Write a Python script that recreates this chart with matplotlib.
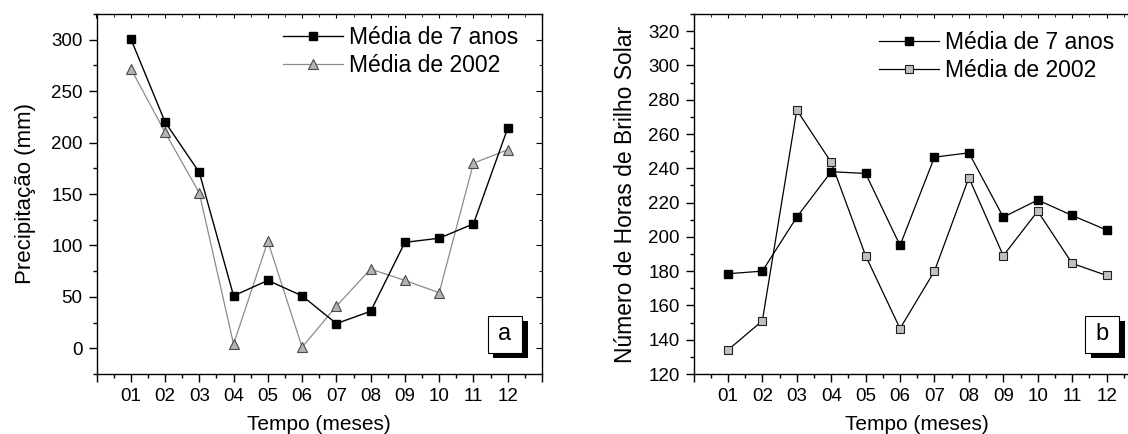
import matplotlib
matplotlib.use("Agg")
import matplotlib.pyplot as plt
from matplotlib.patches import Rectangle
from matplotlib.ticker import MultipleLocator, FixedLocator

plt.rcParams['font.family'] = ['Liberation Sans', 'DejaVu Sans']

months = list(range(1, 13))
month_labels = ["01", "02", "03", "04", "05", "06", "07", "08", "09", "10", "11", "12"]

prec_7anos = [301, 220, 171, 51, 66, 51, 24, 36, 103, 107, 121, 214]
prec_2002 = [272, 210, 151, 4, 104, 1, 41, 77, 66, 54, 180, 193]

sol_7anos = [178.5, 180, 211.5, 238, 237, 195, 246.5, 249, 211.5, 221.5, 212.5, 204]
sol_2002 = [134, 151, 274, 243.5, 189, 146.5, 180, 234.5, 189, 215, 184.5, 177.5]

W, H = 1128, 434
fig = plt.figure(figsize=(W / 100, H / 100), dpi=100)


def fx(px):
    return px / W


def fy(py):
    return 1 - py / H


def make_axes(left, right, top, bottom):
    return fig.add_axes([fx(left), fy(bottom), fx(right) - fx(left), fy(top) - fy(bottom)])


axA = make_axes(96.5, 542, 14, 374)
axB = make_axes(693.5, 1141, 14, 374)

TICK_FS = 13.5
for ax in (axA, axB):
    ax.set_xlim(0, 13)
    ax.set_xticks(list(range(0, 14)))
    ax.set_xticklabels([""] + month_labels + [""])
    ax.xaxis.set_minor_locator(MultipleLocator(0.5))
    ax.tick_params(axis='both', which='major', direction='out', length=6, width=1.0,
                   labelsize=TICK_FS, top=False, right=False, pad=4)
    ax.tick_params(axis='both', which='minor', direction='out', length=3, width=1.0,
                   top=False, right=False)
    for spine in ax.spines.values():
        spine.set_linewidth(1.0)

# Panel a
axA.set_ylim(-25, 325)
axA.yaxis.set_major_locator(MultipleLocator(50))
axA.yaxis.set_minor_locator(MultipleLocator(25))
axA.plot(months, prec_7anos, color='black', lw=1.0, marker='s', ms=5.8,
         mfc='black', mec='black', label='Média de 7 anos', zorder=3)
axA.plot(months, prec_2002, color='#8c8c8c', lw=0.9, marker='^', ms=7,
         mfc='#b4b4b4', mec='#4a4a4a', mew=0.8, label='Média de 2002', zorder=2)
axA.set_ylabel('Precipitação (mm)', fontsize=16, labelpad=11)
axA.set_xlabel('Tempo (meses)', fontsize=15, labelpad=7)

# Panel b
axB.set_ylim(120, 330)
axB.yaxis.set_major_locator(MultipleLocator(20))
axB.yaxis.set_minor_locator(MultipleLocator(10))
axB.plot(months, sol_7anos, color='black', lw=0.9, marker='s', ms=5.8,
         mfc='black', mec='black', label='Média de 7 anos', zorder=3)
axB.plot(months, sol_2002, color='black', lw=0.9, marker='s', ms=5.8,
         mfc='#c0c0c0', mec='#202020', mew=0.8, label='Média de 2002', zorder=2)
axB.set_ylabel('Número de Horas de Brilho Solar', fontsize=16.5, labelpad=8)
axB.set_xlabel('Tempo (meses)', fontsize=15, labelpad=7)

# inward ticks on top and right spines
for ax, (ylo, yhi), ymaj, ymin in ((axA, (-25, 325), 50, 25), (axB, (120, 330), 20, 10)):
    tx = ax.twiny()
    tx.set_xlim(0, 13)
    tx.xaxis.set_major_locator(FixedLocator(list(range(0, 14))))
    tx.xaxis.set_minor_locator(MultipleLocator(0.5))
    tx.tick_params(axis='x', which='major', direction='in', length=3, labeltop=False)
    tx.tick_params(axis='x', which='minor', direction='in', length=2)
    ty = ax.twinx()
    ty.set_ylim(ylo, yhi)
    ty.yaxis.set_major_locator(MultipleLocator(ymaj))
    ty.yaxis.set_minor_locator(MultipleLocator(ymin))
    ty.tick_params(axis='y', which='major', direction='in', length=4, labelright=False)
    ty.tick_params(axis='y', which='minor', direction='in', length=2)
    for t in (tx, ty):
        for s in t.spines.values():
            s.set_visible(False)
        t.patch.set_visible(False)

# Legends
LEG_FS = 16.5
fig.legend(*axA.get_legend_handles_labels(), loc='center left',
           bbox_to_anchor=(fx(283), fy(51.5)), frameon=False, fontsize=LEG_FS,
           borderpad=0, borderaxespad=0, handlelength=2.6, handletextpad=0.3,
           labelspacing=0.2)
fig.legend(*axB.get_legend_handles_labels(), loc='center left',
           bbox_to_anchor=(fx(879), fy(56.5)), frameon=False, fontsize=LEG_FS,
           borderpad=0, borderaxespad=0, handlelength=2.6, handletextpad=0.3,
           labelspacing=0.2)


def label_box(x0, y0, x1, y1, txt):
    off_x, off_y = 5.5, 5.5
    shadow = Rectangle((fx(x0 + off_x), fy(y1 + off_y)), fx(x1 - x0), fy(y0) - fy(y1),
                       transform=fig.transFigure, facecolor='black', edgecolor='black',
                       lw=0, zorder=10)
    box = Rectangle((fx(x0), fy(y1)), fx(x1 - x0), fy(y0) - fy(y1),
                    transform=fig.transFigure, facecolor='white', edgecolor='black',
                    lw=0.8, zorder=11)
    fig.add_artist(shadow)
    fig.add_artist(box)
    fig.text(fx((x0 + x1) / 2), fy((y0 + y1) / 2), txt, ha='center', va='center',
             fontsize=17, zorder=12)


label_box(487.7, 315.7, 522, 352.7, 'a')
label_box(1085.3, 315.7, 1119, 352.7, 'b')

fig.savefig('out.png', dpi=100)
